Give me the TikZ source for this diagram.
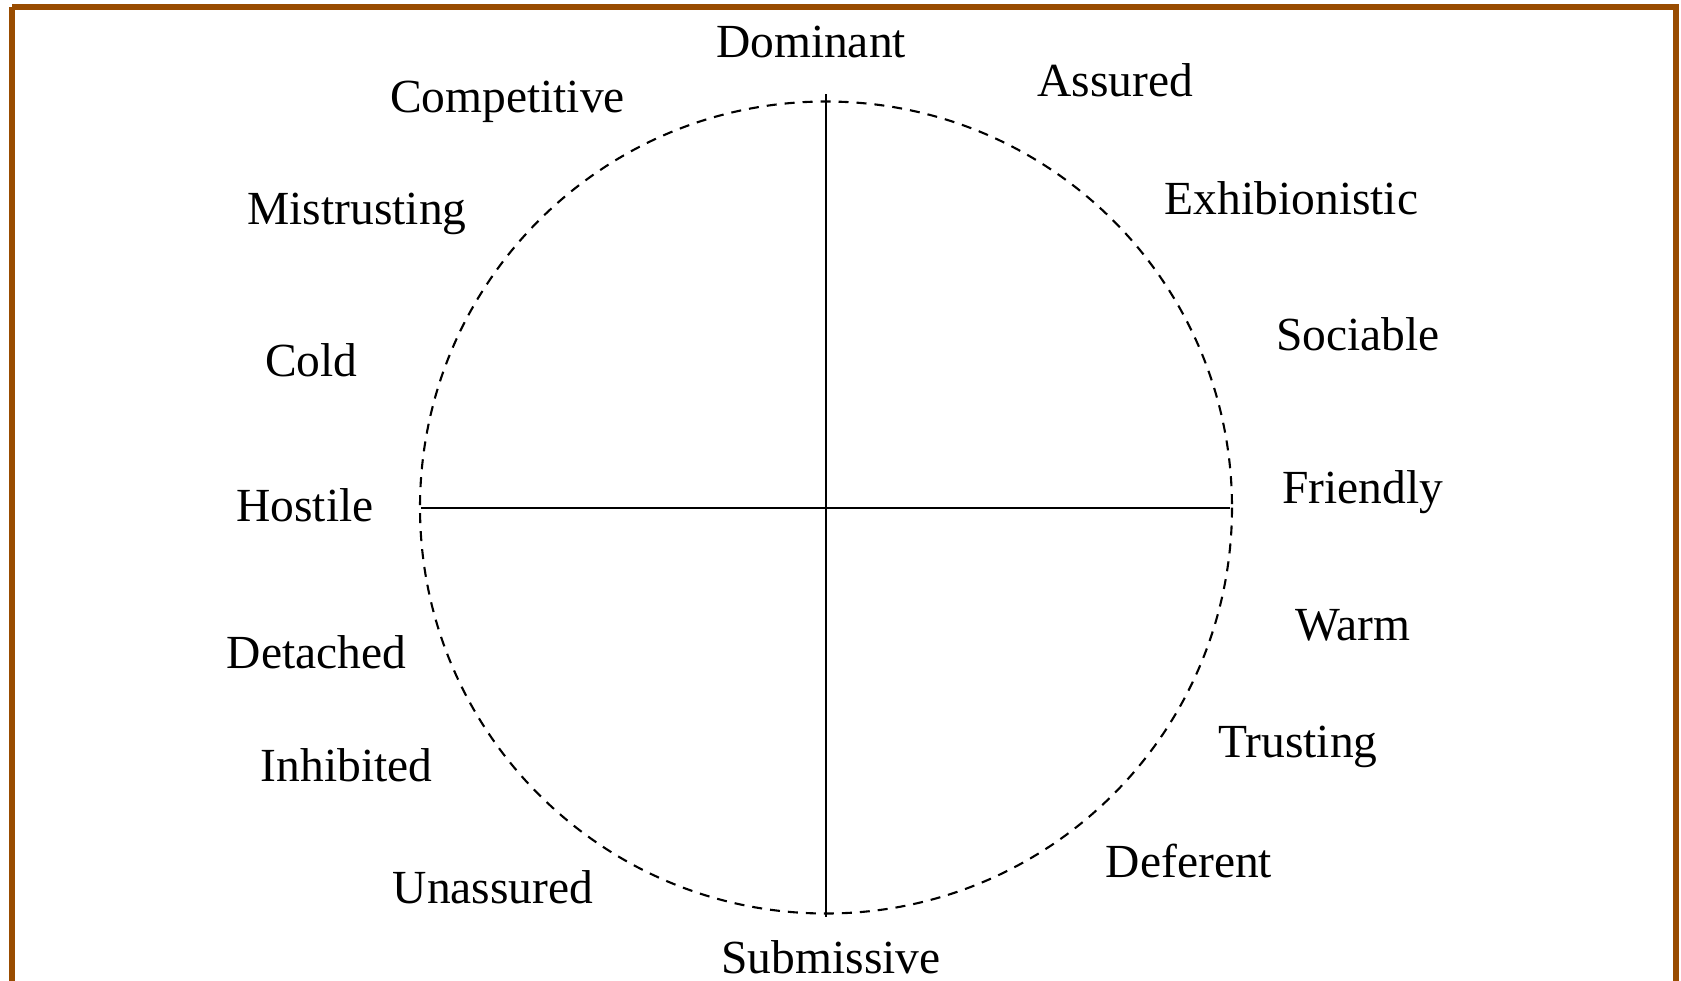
\documentclass[tikz,border=0pt]{standalone}
\usepackage{fontspec}
\setmainfont{Liberation Serif}
\definecolor{frame}{RGB}{153,76,0}
\begin{document}
\begin{tikzpicture}[x=1pt,y=-1pt,
  lbl/.style={anchor=base,inner sep=0pt,font=\fontsize{47.5}{57}\selectfont},
  axis/.style={line width=2.8pt,black},
  rim/.style={line width=2.1pt,dash pattern=on 10pt off 8pt}]
\useasboundingbox (0,0) rectangle (1681,980);
\fill[white] (0,0) rectangle (1681,980);
% outer frame
\draw[frame,line width=6pt] (12,7) -- (1676,7) -- (1676,990) (12,990) -- (12,7);

% circumplex circle and axes
\coordinate (c) at (826,507.5);
\draw[rim] (c) circle[radius=406];
\coordinate (top) at (826,94);
\coordinate (bot) at (826,917);
\coordinate (lft) at (421,508);
\coordinate (rgt) at (1230,508);
\draw[axis] (top) -- (bot);
\draw[axis] (lft) -- (rgt);

% octant labels
\node[lbl] (dom) at (811,57.5) {Dominant};
\node[lbl] (ass) at (1115.5,96) {Assured};
\node[lbl] (exh) at (1291.5,214) {Exhibionistic};
\node[lbl] (soc) at (1358,350) {Sociable};
\node[lbl] (fri) at (1362.5,503) {Friendly};
\node[lbl] (war) at (1352.5,640) {Warm};
\node[lbl] (tru) at (1298,757) {Trusting};
\node[lbl] (def) at (1189,877) {Deferent};
\node[lbl] (sub) at (831,973) {Submissive};
\node[lbl] (una) at (493,903) {Unassured};
\node[lbl] (inh) at (346.5,781.5) {Inhibited};
\node[lbl] (det) at (316.5,668) {Detached};
\node[lbl] (hos) at (305,521.5) {Hostile};
\node[lbl] (col) at (311.5,376) {Cold};
\node[lbl] (mis) at (357,224) {Mistrusting};
\node[lbl] (com) at (507.5,112) {Competitive};
\end{tikzpicture}
\end{document}
